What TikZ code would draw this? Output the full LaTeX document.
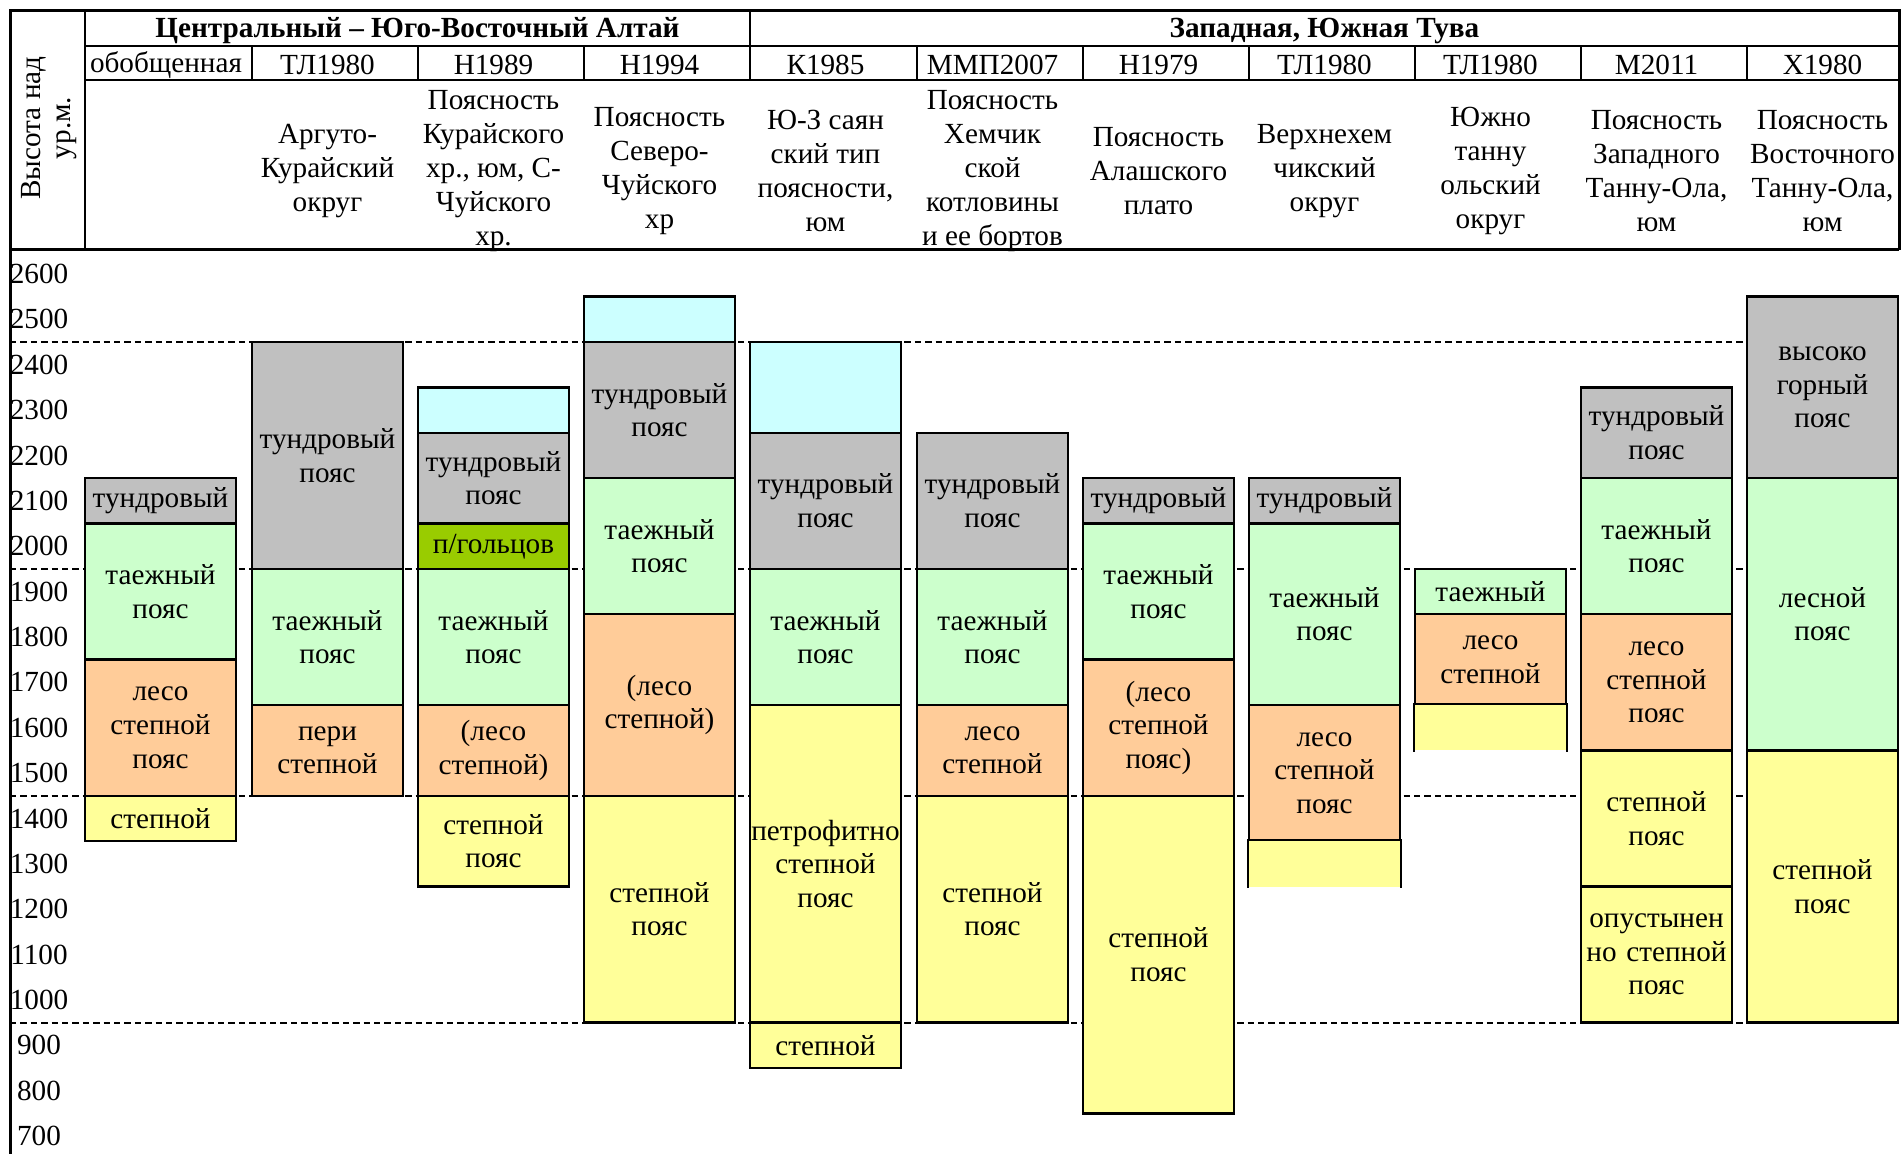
\documentclass[tikz,border=0pt]{standalone}
\usepackage{fontspec}
\setmainfont{Liberation Serif}
\definecolor{tundra}{HTML}{C0C0C0}
\definecolor{taiga}{HTML}{CCFFCC}
\definecolor{foreststeppe}{HTML}{FFCC99}
\definecolor{steppe}{HTML}{FFFF99}
\definecolor{nival}{HTML}{CCFFFF}
\definecolor{golets}{HTML}{99CC00}
% one altitudinal belt: name, column left edge (px), top (m), bottom (m), fill, extra options, label
\newcommand\belt[7]{%
  \node[beltbox,fill=#5,minimum height={(#3-(#4))*0.22685*1pt},#6] (#1)
    at ({#2+75.5},{274+(2600-(#3+#4)/2)*0.4537}) {#7};}
% outline of a belt that has no lower edge
\newcommand\openbelt[1]{%
  \draw[beltline] (#1.south west) -- (#1.north west) -- (#1.north east) -- (#1.south east);}
\begin{document}
\begin{tikzpicture}[x=0.5pt,y=-0.5pt,
  txt/.style={font=\fontsize{14.6pt}{16.8pt}\selectfont,align=center,inner sep=0pt},
  headtxt/.style={font=\fontsize{14.6pt}{17pt}\selectfont,align=center,inner sep=0pt},
  beltline/.style={draw=black,line width=1.2pt},
  beltbox/.style={txt,beltline,text width=75.5pt},
  frame/.style={line width=1.5pt},
  grid/.style={line width=1.1pt},
  level/.style={line width=1.1pt,dash pattern=on 3.2pt off 2pt}]
\useasboundingbox (0,0) rectangle (1901,1154);

% ---- header table ----
\draw[frame] (10,1154) -- (10,11) -- (1899,11) -- (1899,250);
\draw[frame] (10,250) -- (1899,250);
\draw[grid] (85,11) -- (85,250);
\draw[grid] (85,46) -- (1899,46);
\draw[grid] (85,80) -- (1899,80);
\draw[grid] (750,11) -- (750,46);
\foreach \c in {252,418,584,750,917,1083,1249,1415,1581,1747}
  \draw[grid] (\c,46) -- (\c,80);

\node[headtxt,rotate=90,font=\fontsize{14.6pt}{14.6pt}\selectfont] (ylab) at (49,128) {Высота над\\ур.м.};
\node[headtxt,font=\fontsize{14.6pt}{17pt}\selectfont\bfseries] (altai) at (417.5,31) {Центральный – Юго-Восточный Алтай};
\node[headtxt,font=\fontsize{14.6pt}{17pt}\selectfont\bfseries] (tuva) at (1324.5,31) {Западная, Южная Тува};

\node[headtxt] (s1) at (166,65) {обобщенная};
\node[headtxt] (s2) at (327.5,65) {ТЛ1980};
\node[headtxt] (s3) at (493.5,65) {Н1989};
\node[headtxt] (s4) at (659.5,65) {Н1994};
\node[headtxt] (s5) at (825.5,65) {К1985};
\node[headtxt] (s6) at (992.5,65) {ММП2007};
\node[headtxt] (s7) at (1158.5,65) {Н1979};
\node[headtxt] (s8) at (1324.5,65) {ТЛ1980};
\node[headtxt] (s9) at (1490.5,65) {ТЛ1980};
\node[headtxt] (s10) at (1656.5,65) {М2011};
\node[headtxt] (s11) at (1822.5,65) {Х1980};

\node[headtxt] (d2) at (327.5,171) {Аргуто-\\Курайский\\округ};
\node[headtxt] (d3) at (493.5,171) {Поясность\\Курайского\\хр., юм, С-\\Чуйского\\хр.};
\node[headtxt] (d4) at (659.5,171) {Поясность\\Северо-\\Чуйского\\хр};
\node[headtxt] (d5) at (825.5,171) {Ю-З саян\\ский тип\\поясности,\\юм};
\node[headtxt] (d6) at (992.5,171) {Поясность\\Хемчик\\ской\\котловины\\и ее бортов};
\node[headtxt] (d7) at (1158.5,171) {Поясность\\Алашского\\плато};
\node[headtxt] (d8) at (1324.5,171) {Верхнехем\\чикский\\округ};
\node[headtxt] (d9) at (1490.5,171) {Южно\\танну\\ольский\\округ};
\node[headtxt] (d10) at (1656.5,171) {Поясность\\Западного\\Танну-Ола,\\юм};
\node[headtxt] (d11) at (1822.5,171) {Поясность\\Восточного\\Танну-Ола,\\юм};

% ---- altitude scale ----
\foreach \h in {2600,2500,...,700}
  \node[txt] (alt\h) at (39,{274+(2600-\h)*0.4537}) {\h};
\foreach \h in {2450,1950,1450,950}
  \draw[level] (10,{274+(2600-\h)*0.4537}) -- (1899,{274+(2600-\h)*0.4537});

% ---- belts ----
% обобщенная
\belt{a1}{85}{2150}{2050}{tundra}{}{тундровый}
\belt{a2}{85}{2050}{1750}{taiga}{}{таежный\\пояс}
\belt{a3}{85}{1750}{1450}{foreststeppe}{}{лесо\\степной\\пояс}
\belt{a4}{85}{1450}{1350}{steppe}{}{степной}
% ТЛ1980
\belt{b1}{252}{2450}{1950}{tundra}{}{тундровый\\пояс}
\belt{b2}{252}{1950}{1650}{taiga}{}{таежный\\пояс}
\belt{b3}{252}{1650}{1450}{foreststeppe}{}{пери\\степной}
% Н1989
\belt{c1}{418}{2350}{2250}{nival}{}{}
\belt{c2}{418}{2250}{2050}{tundra}{}{тундровый\\пояс}
\belt{c3}{418}{2050}{1950}{golets}{}{п/гольцов}
\belt{c4}{418}{1950}{1650}{taiga}{}{таежный\\пояс}
\belt{c5}{418}{1650}{1450}{foreststeppe}{}{(лесо\\степной)}
\belt{c6}{418}{1450}{1250}{steppe}{}{степной\\пояс}
% Н1994
\belt{e1}{584}{2550}{2450}{nival}{}{}
\belt{e2}{584}{2450}{2150}{tundra}{}{тундровый\\пояс}
\belt{e3}{584}{2150}{1850}{taiga}{}{таежный\\пояс}
\belt{e4}{584}{1850}{1450}{foreststeppe}{}{(лесо\\степной)}
\belt{e5}{584}{1450}{950}{steppe}{}{степной\\пояс}
% К1985
\belt{f1}{750}{2450}{2250}{nival}{}{}
\belt{f2}{750}{2250}{1950}{tundra}{}{тундровый\\пояс}
\belt{f3}{750}{1950}{1650}{taiga}{}{таежный\\пояс}
\belt{f4}{750}{1650}{950}{steppe}{}{петрофитно\\степной\\пояс}
\belt{f5}{750}{950}{850}{steppe}{}{степной}
% ММП2007
\belt{g1}{917}{2250}{1950}{tundra}{}{тундровый\\пояс}
\belt{g2}{917}{1950}{1650}{taiga}{}{таежный\\пояс}
\belt{g3}{917}{1650}{1450}{foreststeppe}{}{лесо\\степной}
\belt{g4}{917}{1450}{950}{steppe}{}{степной\\пояс}
% Н1979
\belt{h1}{1083}{2150}{2050}{tundra}{}{тундровый}
\belt{h2}{1083}{2050}{1750}{taiga}{}{таежный\\пояс}
\belt{h3}{1083}{1750}{1450}{foreststeppe}{}{(лесо\\степной\\пояс)}
\belt{h4}{1083}{1450}{750}{steppe}{}{степной\\пояс}
% ТЛ1980 (Верхнехемчикский)
\belt{i1}{1249}{2150}{2050}{tundra}{}{тундровый}
\belt{i2}{1249}{2050}{1650}{taiga}{}{таежный\\пояс}
\belt{i3}{1249}{1650}{1350}{foreststeppe}{}{лесо\\степной\\пояс}
\belt{i4}{1249}{1350}{1250}{steppe}{draw=none}{}
\openbelt{i4}
% ТЛ1980 (Южнотаннуольский)
\belt{j1}{1415}{1950}{1850}{taiga}{}{таежный}
\belt{j2}{1415}{1850}{1650}{foreststeppe}{}{лесо\\степной}
\belt{j3}{1415}{1650}{1550}{steppe}{draw=none}{}
\openbelt{j3}
% М2011
\belt{k1}{1581}{2350}{2150}{tundra}{}{тундровый\\пояс}
\belt{k2}{1581}{2150}{1850}{taiga}{}{таежный\\пояс}
\belt{k3}{1581}{1850}{1550}{foreststeppe}{}{лесо\\степной\\пояс}
\belt{k4}{1581}{1550}{1250}{steppe}{}{степной\\пояс}
\belt{k5}{1581}{1250}{950}{steppe}{}{опустынен\\но степной\\пояс}
% Х1980
\belt{l1}{1747}{2550}{2150}{tundra}{}{высоко\\горный\\пояс}
\belt{l2}{1747}{2150}{1550}{taiga}{}{лесной\\пояс}
\belt{l3}{1747}{1550}{950}{steppe}{}{степной\\пояс}
\end{tikzpicture}
\end{document}
